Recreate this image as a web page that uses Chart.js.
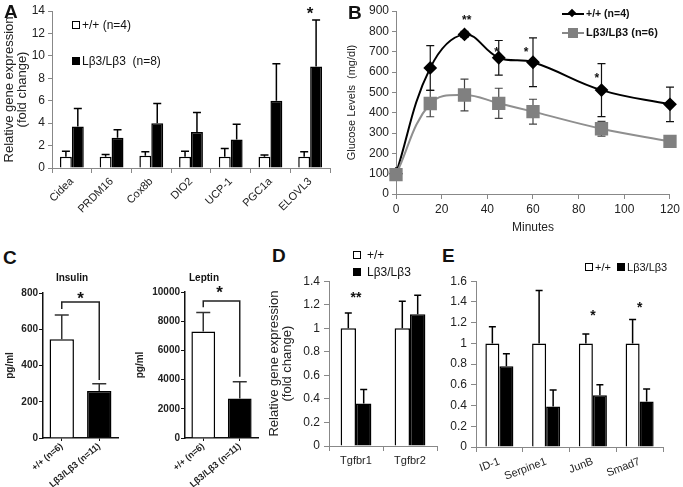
<!DOCTYPE html>
<html>
<head>
<meta charset="utf-8">
<script src="https://cdn.jsdelivr.net/npm/chart.js@4.4.1/dist/chart.umd.min.js"></script>
<style>
  body { margin: 0; background: #fff; font-family: "Liberation Sans", Arial, sans-serif; }
  #fig { position: relative; width: 683px; height: 487px; overflow: hidden; }
  canvas { position: absolute; }
  .txt { position: absolute; white-space: nowrap; color: #111; line-height: 1; }
  .letter { font-size: 19px; font-weight: bold; }
  .box { display: inline-block; width: 6px; height: 6px; border: 1.5px solid #000; background: #fff; margin-right: 2px; vertical-align: 0px; }
  .box.fill { background: #000; }
  .mk { position: absolute; }
</style>
</head>
<body>
<div id="fig">
  <canvas id="chartA" width="336" height="245" style="left:0;top:0"></canvas>
  <canvas id="chartB" width="343" height="245" style="left:340px;top:0"></canvas>
  <canvas id="chartC1" width="125" height="217" style="left:0;top:270px"></canvas>
  <canvas id="chartC2" width="135" height="217" style="left:130px;top:270px"></canvas>
  <canvas id="chartD" width="180" height="217" style="left:265px;top:270px"></canvas>
  <canvas id="chartE" width="238" height="217" style="left:445px;top:270px"></canvas>

  <div class="txt letter" style="left:4px;top:2px">A</div>
  <div class="txt letter" style="left:348px;top:3px">B</div>
  <div class="txt letter" style="left:3px;top:248px">C</div>
  <div class="txt letter" style="left:272px;top:246px">D</div>
  <div class="txt letter" style="left:442px;top:246px">E</div>

  <!-- legend A -->
  <div class="txt" style="left:72px;top:19px;font-size:12px"><span class="box"></span>+/+ (n=4)</div>
  <div class="txt" style="left:72px;top:55px;font-size:12px"><span class="box fill"></span>Lβ3/Lβ3&nbsp; (n=8)</div>

  <!-- legend B -->
  <div class="mk" style="left:562px;top:13px;width:22px;height:2px;background:#000"></div>
  <div class="mk" style="left:569px;top:10px;width:6px;height:6px;background:#000;transform:rotate(45deg)"></div>
  <div class="txt" style="left:586px;top:8px;font-size:10.5px;font-weight:bold">+/+ (n=4)</div>
  <div class="mk" style="left:562px;top:32px;width:22px;height:2px;background:#888"></div>
  <div class="mk" style="left:568px;top:28px;width:10px;height:10px;background:#808080"></div>
  <div class="txt" style="left:586px;top:27px;font-size:11px;font-weight:bold">Lβ3/Lβ3 (n=6)</div>

  <!-- titles C -->
  <div class="txt" style="left:72px;top:273px;font-size:10px;font-weight:bold;transform:translateX(-50%)">Insulin</div>
  <div class="txt" style="left:204px;top:273px;font-size:10px;font-weight:bold;transform:translateX(-50%)">Leptin</div>

  <!-- legend D -->
  <div class="txt" style="left:353px;top:249px;font-size:12px"><span class="box" style="margin-right:6px"></span>+/+</div>
  <div class="txt" style="left:353px;top:266px;font-size:12px"><span class="box fill" style="margin-right:6px"></span>Lβ3/Lβ3</div>

  <!-- legend E -->
  <div class="txt" style="left:585px;top:262px;font-size:11px"><span class="box"></span>+/+&nbsp; <span class="box fill"></span>Lβ3/Lβ3</div>
</div>
<script>
// ---- data ----
const aGenes = ['Cidea', 'PRDM16', 'Cox8b', 'DIO2', 'UCP-1', 'PGC1a', 'ELOVL3'];
const aWt = [1, 1, 1.1, 1, 1, 1, 1];
const aWtErr = [0.5, 0.2, 0.35, 0.5, 0.75, 0.15, 0.45];
const aKo = [3.7, 2.7, 4.0, 3.2, 2.55, 6.0, 9.05];
const aKoErr = [1.6, 0.7, 1.75, 1.75, 1.35, 3.3, 4.15];
const aStars = [{ x: 6, y: 14.1, t: '*' }];

const bMinutes = [0, 15, 30, 45, 60, 90, 120];
const bWt = [100, 620, 785, 670, 648, 511, 441];
const bWtSd = [10, 110, 15, 85, 120, 130, 85];
const bKo = [95, 445, 487, 446, 405, 321, 259];
const bKoSd = [10, 65, 78, 74, 61, 36, 28];
const bStars = [
  { x: 31, y: 866, t: '**' },
  { x: 44, y: 708, t: '*' },
  { x: 57, y: 708, t: '*' },
  { x: 88, y: 580, t: '*' }
];

const cGroups = ['+/+ (n=6)', 'Lβ3/Lβ3 (n=11)'];
const cInsulin = [545, 260];
const cInsulinErr = [133, 40];
const cLeptin = [7300, 2700];
const cLeptinErr = [1300, 1150];

const dGenes = ['Tgfbr1', 'Tgfbr2'];
const dWt = [1, 1];
const dWtErr = [0.13, 0.23];
const dKo = [0.36, 1.12];
const dKoErr = [0.12, 0.16];

const eGenes = ['ID-1', 'Serpine1', 'JunB', 'Smad7'];
const eWt = [1, 1, 1, 1];
const eWtErr = [0.16, 0.51, 0.09, 0.23];
const eKo = [0.78, 0.39, 0.5, 0.44];
const eKoErr = [0.12, 0.16, 0.1, 0.12];

// ---- plugins ----
function drawErrors(chart, opts) {
  const ctx = chart.ctx;
  chart.data.datasets.forEach((ds, i) => {
    if (!ds.err) return;
    const meta = chart.getDatasetMeta(i);
    const ys = chart.scales[meta.yAxisID];
    ctx.save();
    ctx.strokeStyle = ds.errColor || '#000';
    ctx.lineWidth = opts.width || 1.5;
    meta.data.forEach((el, j) => {
      const raw = ds.data[j];
      const v = typeof raw === 'object' ? raw.y : raw;
      const e = ds.err[j];
      const top = ys.getPixelForValue(v + e);
      const bot = ds.bothWays ? ys.getPixelForValue(v - e) : el.y;
      const cap = opts.cap || 4;
      ctx.beginPath();
      ctx.moveTo(el.x, bot);
      ctx.lineTo(el.x, top);
      ctx.moveTo(el.x - cap, top);
      ctx.lineTo(el.x + cap, top);
      if (ds.bothWays) {
        ctx.moveTo(el.x - cap, bot);
        ctx.lineTo(el.x + cap, bot);
      }
      ctx.stroke();
    });
    ctx.restore();
  });
}

const errorBars = {
  id: 'errorBars',
  beforeDatasetsDraw(chart, args, opts) { if (opts.under) drawErrors(chart, opts); },
  afterDatasetsDraw(chart, args, opts) { if (!opts.under) drawErrors(chart, opts); }
};

const stars = {
  id: 'stars',
  afterDraw(chart, args, opts) {
    if (!opts.items) return;
    const ctx = chart.ctx;
    const xs = chart.scales.x, ys = chart.scales.y;
    const size = opts.size || 14;
    ctx.save();
    ctx.fillStyle = '#111';
    ctx.font = 'bold ' + size + 'px "Liberation Sans", Arial, sans-serif';
    ctx.textAlign = 'center';
    ctx.textBaseline = 'middle';
    opts.items.forEach(s => {
      ctx.fillText(s.t, xs.getPixelForValue(s.x), ys.getPixelForValue(s.y) + size * 0.25);
    });
    ctx.restore();
  }
};

const bracket = {
  id: 'bracket',
  afterDraw(chart, args, opts) {
    if (opts.y == null) return;
    const ctx = chart.ctx;
    const meta = chart.getDatasetMeta(0);
    const ys = chart.scales.y;
    const x0 = meta.data[0].x, x1 = meta.data[1].x;
    const yTop = ys.getPixelForValue(opts.y);
    ctx.save();
    ctx.strokeStyle = '#222';
    ctx.lineWidth = 1.5;
    ctx.beginPath();
    ctx.moveTo(x0, ys.getPixelForValue(opts.left));
    ctx.lineTo(x0, yTop);
    ctx.lineTo(x1, yTop);
    ctx.lineTo(x1, ys.getPixelForValue(opts.right));
    ctx.stroke();
    ctx.restore();
  }
};

Chart.register(errorBars, stars, bracket);
Chart.defaults.font.family = '"Liberation Sans", Arial, sans-serif';
Chart.defaults.color = '#222';
Chart.defaults.animation = false;
Chart.defaults.plugins.legend.display = false;
Chart.defaults.plugins.tooltip.enabled = false;

function fixWidth(w) { return scale => { scale.width = w; }; }
function fixHeight(h) { return scale => { scale.height = h; }; }
const decimalTick = v => String(+(+v).toFixed(1));

// ---- A ----
new Chart(document.getElementById('chartA'), {
  type: 'bar',
  data: {
    labels: aGenes,
    datasets: [
      { data: aWt, err: aWtErr, backgroundColor: '#fff', borderColor: '#000', borderWidth: 1.5 },
      { data: aKo, err: aKoErr, backgroundColor: '#000', borderColor: '#000', borderWidth: 1.5 }
    ]
  },
  options: {
    responsive: false,
    layout: { padding: { top: 11, right: 6, left: 0, bottom: 0 } },
    datasets: { bar: { categoryPercentage: 0.6, barPercentage: 1 } },
    plugins: {
      errorBars: { cap: 4, width: 1.5 },
      stars: { items: aStars, size: 17 }
    },
    scales: {
      x: {
        afterFit: fixHeight(77),
        grid: { drawOnChartArea: false, tickLength: 5, color: '#888' },
        border: { color: '#888' },
        ticks: { minRotation: 45, maxRotation: 45, autoSkip: false, font: { size: 11 }, padding: 2 }
      },
      y: {
        min: 0, max: 14,
        afterFit: fixWidth(52),
        ticks: { stepSize: 2, font: { size: 12 }, padding: 3 },
        grid: { drawOnChartArea: false, tickLength: 4, color: '#888' },
        border: { color: '#888' },
        title: { display: true, text: ['Relative gene expression', '(fold change)'], font: { size: 13, lineHeight: 1.0 }, padding: { top: 3, bottom: 0 } }
      }
    }
  }
});

// ---- B ----
new Chart(document.getElementById('chartB'), {
  type: 'line',
  data: {
    datasets: [
      {
        data: bMinutes.map((m, i) => ({ x: m, y: bKo[i] })), err: bKoSd, bothWays: true, errColor: '#444',
        borderColor: '#8f8f8f', backgroundColor: '#808080', pointBorderColor: '#808080',
        borderWidth: 2, pointStyle: 'rect', pointRadius: 8, tension: 0.4, clip: false
      },
      {
        data: bMinutes.map((m, i) => ({ x: m, y: bWt[i] })), err: bWtSd, bothWays: true, errColor: '#111',
        borderColor: '#000', backgroundColor: '#000', pointBorderColor: '#000',
        borderWidth: 2, pointStyle: 'rectRot', pointRadius: 5.5, tension: 0.4, clip: false
      }
    ]
  },
  options: {
    responsive: false,
    layout: { padding: { top: 11, right: 10, left: 0, bottom: 0 } },
    plugins: {
      errorBars: { cap: 4, width: 1.2, under: true },
      stars: { items: bStars, size: 12 }
    },
    scales: {
      x: {
        type: 'linear', min: 0, max: 120,
        afterFit: fixHeight(51),
        ticks: { stepSize: 20, font: { size: 12 }, padding: 3 },
        grid: { drawOnChartArea: false, tickLength: 5, color: '#888' },
        border: { color: '#888' },
        title: { display: true, text: 'Minutes', font: { size: 12 }, padding: { top: 0, bottom: 10 } }
      },
      y: {
        min: 0, max: 900,
        afterFit: fixWidth(56),
        ticks: { stepSize: 100, font: { size: 12 }, padding: 3 },
        grid: { drawOnChartArea: false, tickLength: 4, color: '#888' },
        border: { color: '#888' },
        title: { display: true, text: 'Glucose Levels  (mg/dl)', font: { size: 11 }, padding: { top: 5, bottom: 0 } }
      }
    }
  }
});

// ---- C ----
function hormoneChart(id, values, errs, max, step, yWidth, topPad, br, starItems) {
  return new Chart(document.getElementById(id), {
    type: 'bar',
    data: {
      labels: cGroups,
      datasets: [{ data: values, err: errs, errColor: '#333', backgroundColor: ['#fff', '#000'], borderColor: '#000', borderWidth: 1.5 }]
    },
    options: {
      responsive: false,
      layout: { padding: { top: topPad, right: 7, left: 0, bottom: 0 } },
      datasets: { bar: { categoryPercentage: 1, barPercentage: 0.65 } },
      plugins: {
        errorBars: { cap: 7, width: 1.5 },
        bracket: br,
        stars: { items: starItems, size: 17 }
      },
      scales: {
        x: {
          afterFit: fixHeight(49),
          grid: { offset: false, drawOnChartArea: false, tickLength: 3, color: '#111' },
          border: { color: '#111', width: 1.5 },
          ticks: { minRotation: 40, maxRotation: 40, autoSkip: false, font: { size: 9, weight: 'bold' }, padding: 0 }
        },
        y: {
          min: 0, max: max,
          afterFit: fixWidth(yWidth),
          ticks: { stepSize: step, font: { size: 10, weight: 'bold' }, padding: 1, callback: v => String(v) },
          grid: { drawOnChartArea: false, tickLength: 4, color: '#111' },
          border: { color: '#111', width: 1.5 },
          title: { display: true, text: 'pg/ml', font: { size: 10, weight: 'bold' }, padding: { top: 4, bottom: 0 } }
        }
      }
    }
  });
}
hormoneChart('chartC1', cInsulin, cInsulinErr, 800, 200, 43, 23,
  { y: 750, left: 712, right: 320 }, [{ x: 0.5, y: 790, t: '*' }]);
hormoneChart('chartC2', cLeptin, cLeptinErr, 10000, 2000, 55, 22,
  { y: 9380, left: 8950, right: 4200 }, [{ x: 0.45, y: 10180, t: '*' }]);

// ---- D and E ----
function geneChart(id, labels, wt, wtErr, ko, koErr, max, yWidth, xHeight, topPad, rightPad, catPct, title, starItems) {
  return new Chart(document.getElementById(id), {
    type: 'bar',
    data: {
      labels: labels,
      datasets: [
        { data: wt, err: wtErr, backgroundColor: '#fff', borderColor: '#000', borderWidth: 1.5 },
        { data: ko, err: koErr, backgroundColor: '#000', borderColor: '#000', borderWidth: 1.5 }
      ]
    },
    options: {
      responsive: false,
      layout: { padding: { top: topPad, right: rightPad, left: 0, bottom: 0 } },
      datasets: { bar: { categoryPercentage: catPct, barPercentage: 1 } },
      plugins: {
        errorBars: { cap: 3.5, width: 1.5 },
        stars: { items: starItems, size: 14 }
      },
      scales: {
        x: {
          afterFit: fixHeight(xHeight),
          grid: { drawOnChartArea: false, tickLength: 5, color: '#888' },
          border: { color: '#888' },
          ticks: { font: { size: 11 }, padding: 3 }
        },
        y: {
          min: 0, max: max,
          afterFit: fixWidth(yWidth),
          ticks: { stepSize: 0.2, font: { size: 12 }, padding: 4, callback: decimalTick },
          grid: { drawOnChartArea: false, tickLength: 5, color: '#888' },
          border: { color: '#888' },
          title: title
        }
      }
    }
  });
}
geneChart('chartD', dGenes, dWt, dWtErr, dKo, dKoErr, 1.4, 64, 41, 11, 8, 0.57,
  { display: true, text: ['Relative gene expression', '(fold change)'], font: { size: 13, lineHeight: 1.0 }, padding: { top: 3, bottom: 0 } },
  [{ x: 0, y: 1.29, t: '**' }]);
geneChart('chartE', eGenes, eWt, eWtErr, eKo, eKoErr, 1.6, 31, 40, 9, 20, 0.6,
  { display: false },
  [{ x: 2, y: 1.3, t: '*' }, { x: 3, y: 1.37, t: '*' }]);
</script>
</body>
</html>
